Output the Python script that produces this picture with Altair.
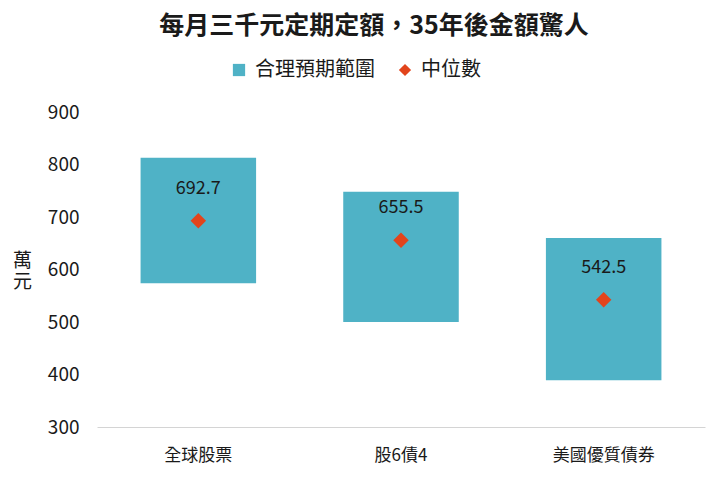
import altair as alt
import pandas as pd

categories = ["全球股票", "股6債4", "美國優質債券"]
low = [574, 500, 389]
high = [813, 748, 660]
median = [692.7, 655.5, 542.5]
median_labels = ["692.7", "655.5", "542.5"]
series_names = ["合理預期範圍", "中位數"]
y_ticks = [300, 400, 500, 600, 700, 800, 900]

df = pd.DataFrame({
    "cat": categories,
    "low": low,
    "high": high,
    "median": median,
    "label": median_labels,
})

FONT = "Noto Sans CJK TC"
TEAL = "#4fb2c6"
RED = "#e2441c"
TXT = "#1a1a1a"

color_scale = alt.Scale(domain=series_names, range=[TEAL, RED])
shape_scale = alt.Scale(domain=series_names, range=["square", "diamond"])

legend = alt.Legend(
    title=None, orient="none", direction="horizontal", legendX=132, legendY=-52,
    labelFontSize=20, labelFont=FONT, labelColor=TXT, symbolSize=150,
    labelOffset=6, columnPadding=20, symbolStrokeWidth=0,
)

x = alt.X(
    "cat:N",
    sort=categories,
    scale=alt.Scale(paddingInner=0, paddingOuter=0),
    axis=alt.Axis(
        title=None, labelAngle=0, ticks=False, domainColor="#d4d4d4",
        domainWidth=1, labelFontSize=17, labelPadding=20, labelColor=TXT,
        labelFont=FONT, grid=False,
    ),
)

y_axis = alt.Axis(
    values=y_ticks, ticks=False, domain=False, grid=False,
    labelFontSize=19, labelPadding=18, labelColor=TXT, labelFont=FONT,
    title=["萬", "元"], titleAngle=0, titleFontSize=19, titleFontWeight="normal",
    titleColor=TXT, titleFont=FONT, titleX=-75, titleY=148,
    titleAlign="center", titleBaseline="middle", titleLineHeight=21,
)

y_scale = alt.Scale(domain=[300, 900], nice=False, zero=False)

base = alt.Chart(df)

bars = base.mark_bar(width={"band": 0.57}).transform_calculate(
    series="'" + series_names[0] + "'"
).encode(
    x=x,
    y=alt.Y("low:Q", scale=y_scale, axis=y_axis),
    y2="high:Q",
    color=alt.Color("series:N", scale=color_scale, legend=legend),
)

points = base.mark_point(filled=True, size=240, opacity=1).transform_calculate(
    series="'" + series_names[1] + "'"
).encode(
    x=x,
    y=alt.Y("median:Q", scale=y_scale, axis=y_axis),
    color=alt.Color("series:N", scale=color_scale, legend=legend),
    shape=alt.Shape("series:N", scale=shape_scale, legend=legend),
)

texts = base.mark_text(dy=-32, fontSize=18, font=FONT, color=TXT).encode(
    x=x,
    y=alt.Y("median:Q", scale=y_scale, axis=y_axis),
    text="label:N",
)

chart = alt.layer(bars, points, texts).properties(
    width=608,
    height=315,
    background="white",
    autosize=alt.AutoSizeParams(type="none"),
    padding={"left": 89, "top": 104, "right": 5, "bottom": 40},
    title=alt.TitleParams(
        "每月三千元定期定額，35年後金額驚人",
        font=FONT, fontSize=25, fontWeight="bold", color=TXT,
        anchor="middle", dx=-27, offset=21,
    ),
).configure_view(stroke="transparent", strokeWidth=0).configure_axisY(
    domain=False, ticks=False, grid=False
).configure_axisX(grid=False)

chart.save("out.html", embed_options={"renderer": "svg", "actions": False})
